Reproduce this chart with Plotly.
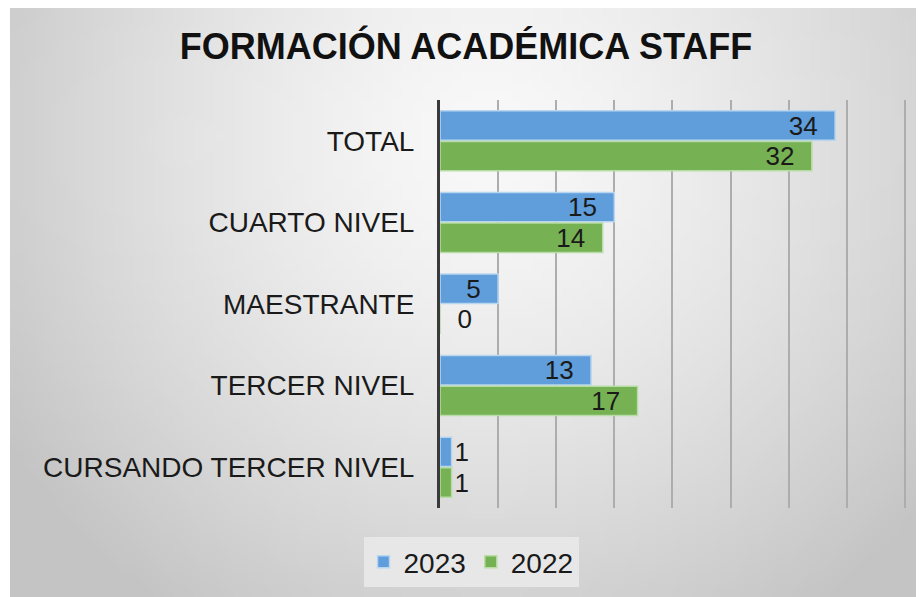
import base64, struct, zlib
import plotly.graph_objects as go

categories = ["TOTAL", "CUARTO NIVEL", "MAESTRANTE", "TERCER NIVEL", "CURSANDO TERCER NIVEL"]
values_2023 = [34, 15, 5, 13, 1]
values_2022 = [32, 14, 0, 17, 1]
series_names = ["2023", "2022"]
title_text = "FORMACIÓN ACADÉMICA STAFF"

# page body has an 8px margin; figure coordinates = reference coordinates - 8
OFF = 8
W, H = 924 - OFF, 597 - OFF
L, R, T, B = 440 - OFF, 906 - OFF, 100 - OFF, 508 - OFF


def gradient_png(w, h):
    rows = []
    for j in range(h):
        py = OFF + (j + 0.5) * (597 - OFF) / h
        row = bytearray([0])
        for i in range(w):
            px = 10 + (i + 0.5) * (924 - 10) / w
            dx = (px - 490) / 520
            dy = (py - 140) / 520
            r = (dx * dx + dy * dy) ** 0.5
            v = 249 - 46 * min(r, 1.25) ** 1.4
            v = int(max(196, min(250, v)))
            row += bytes([v, v, v])
        rows.append(bytes(row))
    raw = b"".join(rows)

    def chunk(t, d):
        c = struct.pack(">I", len(d)) + t + d
        return c + struct.pack(">I", zlib.crc32(t + d) & 0xffffffff)

    png = b"\x89PNG\r\n\x1a\n" + chunk(b"IHDR", struct.pack(">IIBBBBB", w, h, 8, 2, 0, 0, 0))
    png += chunk(b"IDAT", zlib.compress(raw, 9)) + chunk(b"IEND", b"")
    return "data:image/png;base64," + base64.b64encode(png).decode()


def px2paper_x(px):
    return (px - L) / (R - L)


def px2paper_y(py):
    return (B - py) / (B - T)


font_family = "Liberation Sans, Arial, sans-serif"
lbl_font = dict(color="#1a1a1a", size=26, family=font_family)


def positions(vals):
    return ["inside" if v >= 5 else "outside" for v in vals]


def templates(vals):
    return ["%{x}  " if v >= 5 else ("  %{x}" if v == 0 else "%{x}") for v in vals]


fig = go.Figure()
fig.add_trace(go.Bar(
    y=categories, x=values_2023, name=series_names[0], orientation="h",
    marker=dict(color="#5f9ddb", line=dict(color="#b9d6f0", width=1.5)),
    texttemplate=templates(values_2023), textposition=positions(values_2023),
    insidetextanchor="end", textangle=0, constraintext="none",
    insidetextfont=lbl_font, outsidetextfont=lbl_font, cliponaxis=False,
))
fig.add_trace(go.Bar(
    y=categories, x=values_2022, name=series_names[1], orientation="h",
    marker=dict(color="#76b254", line=dict(color="#b8dca6", width=1.5)),
    texttemplate=templates(values_2022), textposition=positions(values_2022),
    insidetextanchor="end", textangle=0, constraintext="none",
    insidetextfont=lbl_font, outsidetextfont=lbl_font, cliponaxis=False,
))

fig.update_layout(
    width=W, height=H,
    margin=dict(l=L, r=W - R, t=T, b=H - B),
    paper_bgcolor="white",
    plot_bgcolor="rgba(0,0,0,0)",
    barmode="group", bargap=0.25, bargroupgap=0.04,
    font=dict(family=font_family, color="#1a1a1a"),
    title=dict(text="<b>" + title_text + "</b>", x=(466 - OFF) / W, xref="container", xanchor="center",
               y=1 - (46 - OFF) / H, yref="container", yanchor="middle",
               font=dict(size=36, color="#111111", family=font_family)),
    xaxis=dict(range=[0, 40.1], dtick=5, showticklabels=False, showgrid=True,
               gridcolor="#adadad", gridwidth=1.5, zeroline=False, showline=False, fixedrange=True),
    yaxis=dict(autorange="reversed", showgrid=False, showline=True, linecolor="#3a3a3a",
               linewidth=3, ticks="", ticklabelstandoff=17,
               tickfont=dict(size=28, color="#1a1a1a", family=font_family)),
    legend=dict(orientation="h", x=(471 - OFF) / W, xref="container", xanchor="center",
                y=1 - (562 - OFF) / H, yref="container", yanchor="middle",
                bgcolor="#e7e7e7", font=dict(size=28, color="#1a1a1a"),
                itemwidth=30, traceorder="normal"),
    images=[dict(source=gradient_png(92, 60), xref="paper", yref="paper",
                 x=px2paper_x(10 - OFF), y=px2paper_y(0),
                 sizex=px2paper_x(W) - px2paper_x(10 - OFF), sizey=px2paper_y(0) - px2paper_y(H),
                 xanchor="left", yanchor="top", sizing="stretch", layer="below")],
)

fig.write_html("out.html")
